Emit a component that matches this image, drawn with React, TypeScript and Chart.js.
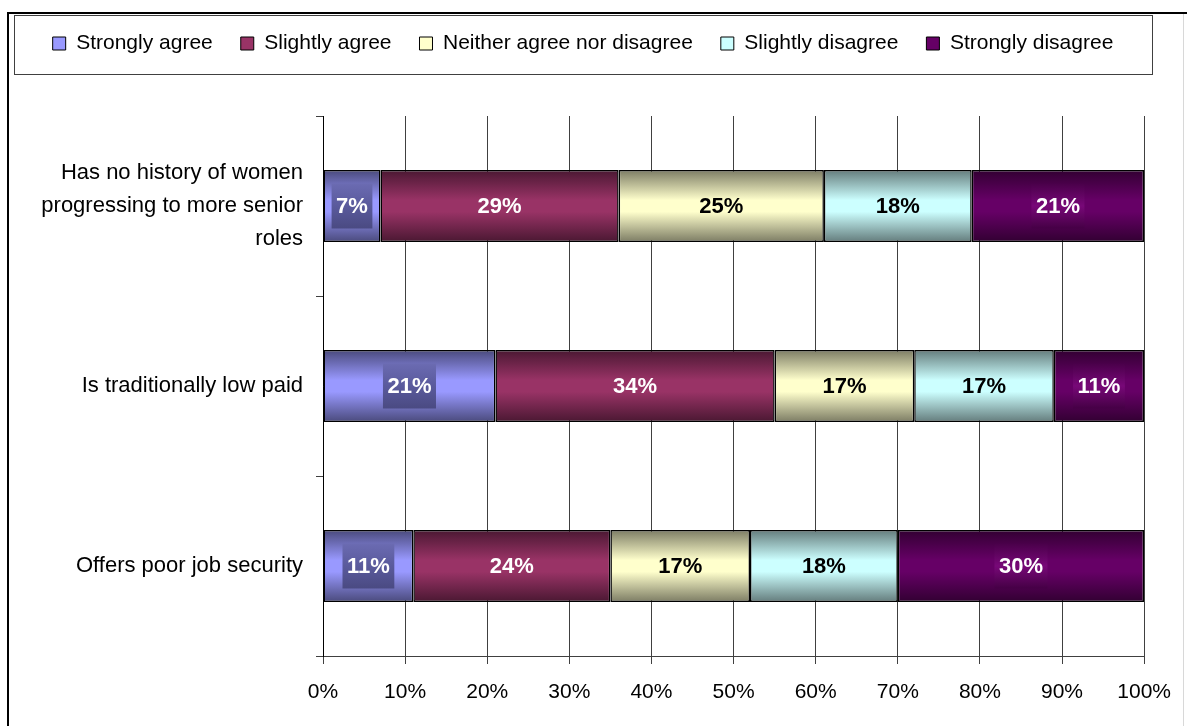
import React, { useEffect, useRef } from "react";
import { Chart, registerables } from "chart.js";

Chart.register(...registerables);

const categories: (string | string[])[] = [
  ["Has no history of women", "progressing to more senior", "roles"],
  "Is traditionally low paid",
  "Offers poor job security",
];
const seriesNames = [
  "Strongly agree",
  "Slightly agree",
  "Neither agree nor disagree",
  "Slightly disagree",
  "Strongly disagree",
];
const stronglyAgree = [7, 21, 11];
const slightlyAgree = [29, 34, 24];
const neitherAgree = [25, 17, 17];
const slightlyDisagree = [18, 17, 18];
const stronglyDisagree = [21, 11, 30];
const seriesValues = [stronglyAgree, slightlyAgree, neitherAgree, slightlyDisagree, stronglyDisagree];
const xTickValues = [0, 10, 20, 30, 40, 50, 60, 70, 80, 90, 100];

const baseColors = ["#9999FF", "#993366", "#FFFFCC", "#CCFFFF", "#660066"];
const edgeColors = ["#4a4a7c", "#4a1832", "#7c7c64", "#647c7c", "#320032"];
const labelColors = ["#FFFFFF", "#FFFFFF", "#000000", "#000000", "#FFFFFF"];
const FONT = "'Liberation Sans', Arial, sans-serif";
const LEGEND_PAD = 28;

function barGradient(ctx: any, i: number) {
  const chart = ctx.chart;
  const y = chart.scales && chart.scales.y;
  if (!y || ctx.dataIndex === undefined || !isFinite(y.getPixelForValue(ctx.dataIndex))) return baseColors[i];
  const c = y.getPixelForValue(ctx.dataIndex);
  const band = Math.abs(y.getPixelForValue(1) - y.getPixelForValue(0)) || 180;
  const half = (band * 0.4) / 2;
  const g = chart.ctx.createLinearGradient(0, c - half, 0, c + half);
  g.addColorStop(0, edgeColors[i]);
  g.addColorStop(0.42, baseColors[i]);
  g.addColorStop(0.58, baseColors[i]);
  g.addColorStop(1, edgeColors[i]);
  return g;
}

const framePlugin = {
  id: "frame",
  beforeDraw(chart: any) {
    const { ctx, width, height } = chart;
    ctx.save();
    ctx.fillStyle = "#ffffff";
    ctx.fillRect(0, 0, width, height);
    ctx.strokeStyle = "#000000";
    ctx.lineWidth = 2;
    ctx.beginPath();
    ctx.moveTo(8, height);
    ctx.lineTo(8, 13);
    ctx.lineTo(width, 13);
    ctx.stroke();
    ctx.strokeStyle = "#d8d8d8";
    ctx.lineWidth = 1;
    ctx.beginPath();
    ctx.moveTo(width - 3.5, 14);
    ctx.lineTo(width - 3.5, height);
    ctx.stroke();
    const lg = chart.legend;
    if (lg) {
      const pad = lg.options.labels.padding;
      const cy = lg.top + pad + 10.5;
      ctx.strokeStyle = "#404040";
      ctx.lineWidth = 1;
      ctx.strokeRect(Math.round(lg.left - 7) + 0.5, Math.round(cy - 29) + 0.5, Math.round(lg.right - lg.left + 14), 59);
    }
    ctx.restore();
  },
};

const legendSpacing = {
  id: "legendSpacing",
  beforeInit(chart: any) {
    const lg = chart.legend;
    if (!lg) return;
    const fit = lg.fit;
    lg.fit = function () {
      fit.call(this);
      this.height += 52;
    };
  },
};

const labelPlugin = {
  id: "barLabels",
  afterDatasetsDraw(chart: any) {
    const ctx = chart.ctx;
    ctx.save();
    ctx.font = `bold 22px ${FONT}`;
    ctx.textAlign = "center";
    ctx.textBaseline = "middle";
    chart.data.datasets.forEach((ds: any, i: number) => {
      const meta = chart.getDatasetMeta(i);
      meta.data.forEach((el: any, j: number) => {
        const v = ds.data[j];
        const x = (el.x + el.base) / 2;
        const y = el.y;
        const text = `${v}%`;
        const w = ctx.measureText(text).width;
        if (i === 0 || i === 4) {
          const bw = w + 9;
          const bh = 45;
          const g = ctx.createLinearGradient(0, y - bh / 2, 0, y + bh / 2);
          if (i === 0) {
            g.addColorStop(0, "#6b6bb2");
            g.addColorStop(0.5, "#5a5a9c");
            g.addColorStop(1, "#4a4a82");
          } else {
            g.addColorStop(0, "#4a004a");
            g.addColorStop(0.5, "#780878");
            g.addColorStop(1, "#450045");
          }
          ctx.fillStyle = g;
          ctx.fillRect(x - bw / 2, y - bh / 2, bw, bh);
        }
        ctx.fillStyle = labelColors[i];
        ctx.fillText(text, x, y + 1);
      });
    });
    ctx.restore();
  },
};

export default function App() {
  const canvasRef = useRef<HTMLCanvasElement | null>(null);

  useEffect(() => {
    const canvas = canvasRef.current;
    if (!canvas) return;
    const chart = new Chart(canvas, {
      type: "bar",
      data: {
        labels: categories,
        datasets: seriesNames.map((name, i) => ({
          label: name,
          data: seriesValues[i],
          backgroundColor: (ctx: any) => barGradient(ctx, i),
          borderColor: "#000000",
          borderWidth: 1.5,
          borderSkipped: false,
          categoryPercentage: 0.8,
          barPercentage: 0.5,
        })),
      },
      options: {
        indexAxis: "y",
        responsive: false,
        animation: false,
        layout: { padding: { left: 21, right: 42, top: 5, bottom: 0 } },
        plugins: {
          tooltip: { enabled: false },
          title: { display: false },
          legend: {
            display: true,
            position: "top",
            labels: {
              boxWidth: 13,
              boxHeight: 13,
              padding: LEGEND_PAD,
              color: "#000000",
              font: { family: FONT, size: 21 },
              generateLabels: () =>
                seriesNames.map((name, i) => ({
                  text: name,
                  fillStyle: baseColors[i],
                  strokeStyle: "#000000",
                  lineWidth: 1,
                  hidden: false,
                  datasetIndex: i,
                })),
            },
          },
        },
        scales: {
          x: {
            stacked: true,
            min: 0,
            max: 100,
            afterBuildTicks: (scale: any) => {
              scale.ticks = xTickValues.map((v) => ({ value: v }));
            },
            afterFit: (scale: any) => {
              scale.height = 70;
            },
            ticks: {
              color: "#000000",
              font: { family: FONT, size: 21 },
              padding: 16,
              maxRotation: 0,
              callback: (v: any) => `${v}%`,
            },
            grid: {
              color: "#404040",
              lineWidth: 1,
              tickLength: 8,
              drawTicks: true,
            },
            border: { display: true, color: "#404040", width: 1 },
          },
          y: {
            stacked: true,
            afterFit: (scale: any) => {
              scale.width = 302;
            },
            ticks: {
              color: "#000000",
              font: { family: FONT, size: 22, lineHeight: 1.5 },
              padding: 13,
            },
            grid: {
              offset: true,
              drawOnChartArea: false,
              drawTicks: true,
              tickLength: 7,
              color: "#404040",
            },
            border: { display: true, color: "#000000", width: 1 },
          },
        },
      },
      plugins: [framePlugin, legendSpacing, labelPlugin],
    } as any);
    return () => chart.destroy();
  }, []);

  return (
    <div style={{ position: "absolute", left: 0, top: 0, width: 1187, height: 726 }}>
      <canvas ref={canvasRef} width={1187} height={726} style={{ width: 1187, height: 726, display: "block" }} />
    </div>
  );
}
